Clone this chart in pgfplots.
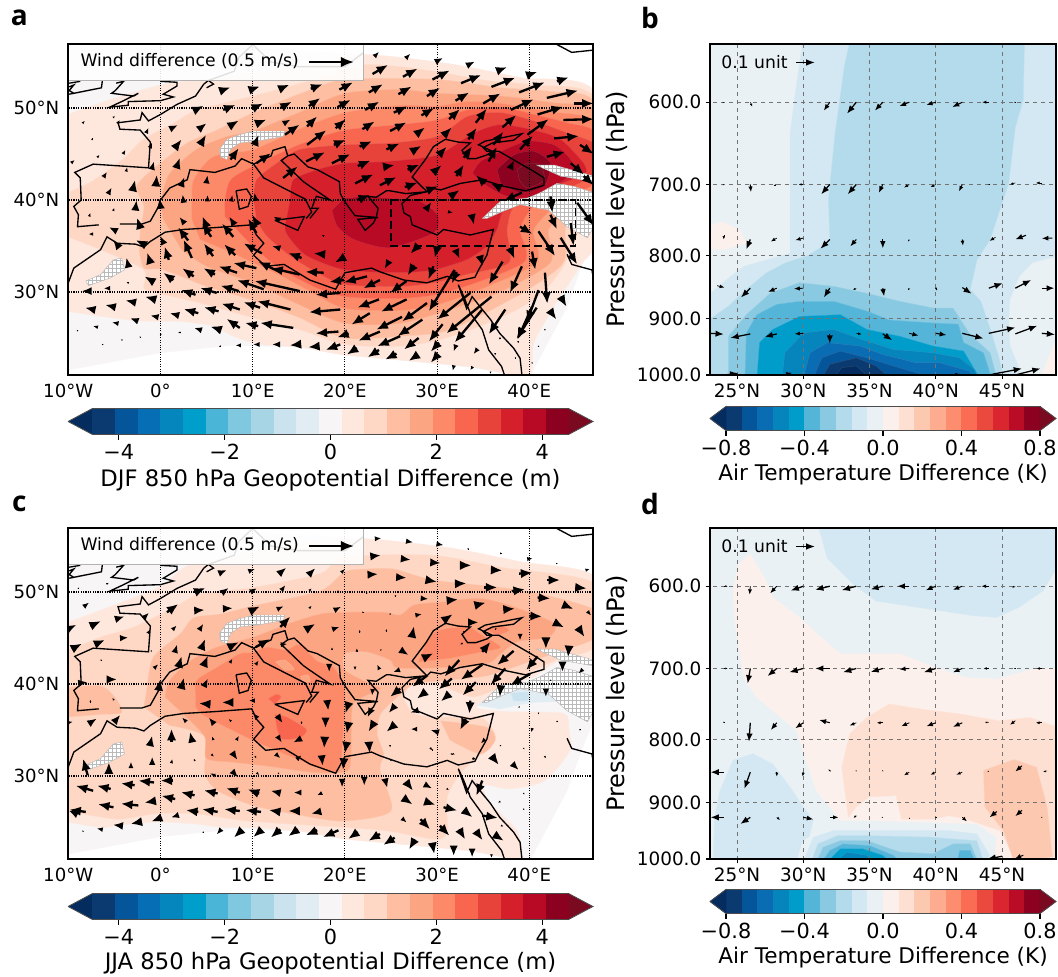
\documentclass[border=0pt]{standalone}
\usepackage{fontspec}
\setmainfont{DejaVu Sans}
\newfontfamily\lettfont{Open Sans}
\usepackage{pgfplots}
\usepackage{pgfplotstable}
\pgfplotsset{compat=1.18}
\usetikzlibrary{arrows.meta,patterns}
\definecolor{tipN}{HTML}{042C5E}\definecolor{tipP}{HTML}{7A0A20}
\definecolor{n10}{HTML}{0A3A70}\definecolor{n9}{HTML}{05559A}\definecolor{n8}{HTML}{066EB5}\definecolor{n7}{HTML}{0587BE}\definecolor{n6}{HTML}{009FCB}
\definecolor{n5}{HTML}{4AB5D7}\definecolor{n4}{HTML}{80C7E0}\definecolor{n3}{HTML}{A8D5E6}\definecolor{n2}{HTML}{CBE3EF}\definecolor{n1}{HTML}{E1EDF3}
\definecolor{z0}{HTML}{F7F5F6}
\definecolor{p1}{HTML}{FEE8DE}\definecolor{p2}{HTML}{FED8C5}\definecolor{p3}{HTML}{FDBEA1}\definecolor{p4}{HTML}{FCA582}\definecolor{p5}{HTML}{FC8A68}
\definecolor{p6}{HTML}{F86650}\definecolor{p7}{HTML}{E7433A}\definecolor{p8}{HTML}{D5202C}\definecolor{p9}{HTML}{B80A25}\definecolor{p10}{HTML}{8C011F}
\definecolor{q10}{HTML}{0A3A70}\definecolor{q9}{HTML}{05559A}\definecolor{q8}{HTML}{0A6CB3}\definecolor{q7}{HTML}{0585BB}\definecolor{q6}{HTML}{009CCA}
\definecolor{q5}{HTML}{55B5D8}\definecolor{q4}{HTML}{8AC9E2}\definecolor{q3}{HTML}{B4DBEB}\definecolor{q2}{HTML}{D3E8F2}\definecolor{q1}{HTML}{E9F1F4}
\definecolor{r1}{HTML}{FBF0EC}\definecolor{r2}{HTML}{FEE0D2}\definecolor{r3}{HTML}{FDC8B0}\definecolor{r4}{HTML}{FDAC8F}\definecolor{r5}{HTML}{FC8E6F}
\definecolor{r6}{HTML}{FA6D54}\definecolor{r7}{HTML}{EA4A3E}\definecolor{r8}{HTML}{D9262F}\definecolor{r9}{HTML}{BB0C27}\definecolor{r10}{HTML}{8C0120}

\pgfplotstableread{
lon lat
-9.9 52.7
-8.7 52.9
nan nan
-9.9 52.3
-9.4 52.5
-9.9 51.9
-9.4 51.6
nan nan
-9.9 51.5
-6.4 52.2
-6.3 53
nan nan
-4.8 52.7
-4 52.9
-4.9 51.9
-5.3 51.6
-2.9 51.3
-2.4 51.6
-4 50.8
-5.5 50.1
-3.5 50.3
-3.5 50.7
0 50.8
1.4 51.2
.3 51.5
1.8 52.4
1.8 52.8
0 52.9
nan nan
-6.7 37.3
-9 37.1
-8.9 38.4
-9.4 39.3
-8.6 40
-8.7 42.4
-9.3 43
-7.3 43.9
-1.3 43.5
-1.1 46.3
-2.2 47.6
-4.4 47.7
-4.6 48.4
-2.2 48.7
-2 49.5
-1.3 48.6
0 49.3
1.8 50.4
3.8 51.3
4.7 52.6
5.2 53
5.75 52.6
5 52.2
nan nan
5.2 53
8 54
8.5 55.5
10 56.9
12 55
15 54.5
20 54.5
22 56
nan nan
-4.4 37.4
-2 37.4
-1.1 37.7
-.2 39.3
0 40
1 41.3
2.9 42.2
3.2 43.3
5.9 43
8.1 43.7
8.8 44.5
10.1 43.9
11.2 42.4
15.7 40.1
16.4 38.7
15.8 38
nan nan
10.1 43.9
12 44.8
12.2 45.4
13.5 45.8
13.8 44.8
14.5 45
16 43.6
17 43.3
19.4 42
19.5 40.7
20 39.8
21.1 38.3
23.6 38.1
21.4 37.9
22.2 36.7
23.1 37.5
23.4 38.1
23.6 39.1
22.5 40.4
23.4 40.3
24.5 41
24.9 41
26.6 40.7
28.9 40.9
27.3 42.5
28.8 44.5
29.6 45.8
30.9 46.6
32.3 46.3
33.6 46.2
32.7 45.4
33.3 44.5
34.2 44.5
35.4 44.9
36 45.3
34.5 46
35.2 46.4
39.2 47.2
38.3 46.5
36 46.2
35 45.7
35.4 45.3
36.7 45.3
40.5 43.1
41.6 42.4
41.6 41.6
39.6 41
37.2 41.5
34.9 42.2
32.5 41.8
30.4 41.1
29.3 41.3
28.9 40.9
27.1 40.5
26.2 39.6
26.4 38.6
27.1 38.2
27.3 37.3
30 36.2
30.7 36.8
33.6 36.2
36.1 36.8
35.4 34
34.5 32.4
34.1 31.6
32.3 31.2
31.1 31.7
28.9 31
26.4 31.3
23.8 32.2
22.9 32.6
20 32.1
19 30.3
16.2 31.3
13.4 33
11.4 32.8
10.1 34
11.2 35.3
10.4 36.2
9.9 37.3
5.9 37
2.5 36.8
.5 36.5
-1.1 35.5
-1.8 34.9
-2.7 35.2
-4.7 35.3
-5.8 36
-6.5 34.6
-9.4 32.6
-10 31
nan nan
13.8 44.8
13.1 44.3
15.5 42
16.2 41.5
18.4 40
16.9 40.4
16.4 39.1
17.1 39.1
16.2 38
nan nan
12.4 37.8
15.6 38.2
14.9 36.7
12.4 37.8
nan nan
8.2 41
9.35 41.2
9.85 40.4
9.5 39.3
8.55 39
8.2 41
nan nan
32.3 30.8
32.9 29.5
33.6 27.7
34.9 25.9
35.6 23.7
37 21.9
37.3 21
nan nan
32.3 30.8
33.2 28.2
33.8 29.5
34.9 28.1
35.8 27
36.8 25.5
38.3 23.9
39 22.8
39.2 21
nan nan
43 56.9
44.6 56.05
47 56.3
nan nan
44.1 34.1
44.6 33
46.8 32.4
47 31.1
}\coast

\pgfplotstableread{
lon lat u v
23.3 55.7 .4 .4
26.7 55.5 .4 .4
30 55.1 .65 .35
33.4 54.7 .7 .35
36.7 54.1 .9 .35
39.9 53.6 1 .35
43 52.9 1.3 .45
23 53.7 1.7 1
26.3 53.4 1.6 .9
29.5 53.1 1.9 1
32.6 52.7 2.2 .9
35.9 52.3 2.6 1
38.9 51.7 2.8 1.1
41.9 51.1 3.4 .8
44.8 50.5 2.2 0
16.3 52.1 1.3 .5
19.4 52 1.5 .8
22.6 51.7 1.55 .9
25.8 51.5 1.45 .85
28.9 51.3 1.45 .9
32 50.8 1.5 .9
35 50.5 1.9 1.1
38 49.8 2.5 1.15
40.9 49.3 2.8 .85
43.7 48.7 3.3 .1
16.1 50.2 1.25 .9
19.2 50.1 1.45 .8
22.2 49.8 1.55 .9
25.3 49.5 1.5 .7
28.3 49.2 1.4 .8
31.3 48.8 1.2 1.1
34.2 48.4 1.2 1.55
37.1 47.9 1.5 1.35
39.8 47.1 2.3 1.7
42.7 46.7 2.7 .25
15.9 48 1.1 1.1
19 47.8 1.1 1
21.9 47.7 1.35 .85
24.9 47.5 1.8 .95
27.8 47.2 .9 .7
30.7 47 .9 .9
33.4 46.6 .9 1.25
36.1 46 1.1 1.45
39 45.5 1.4 1.5
41.9 44.7 2 .55
45.5 46 1.5 -1
15.9 46 2.1 1.6
18.8 46 1.3 .55
21.6 45.8 1.35 .6
24.5 45.5 1.45 .65
27.3 45.3 1 .6
30.2 44.9 .85 .9
32.9 44.6 .9 1.25
35.6 44.2 .9 1.6
38 43.6 .35 .75
44.5 44 1.45 -1.25
15.8 44.2 2.05 1
18.6 44 2 1
21.4 43.7 1.4 .6
24.2 43.6 1.2 .2
26.8 43.3 1.3 .55
29.6 43 .9 .8
32.1 42.6 .8 1.25
35.2 41.8 -1 .9
36.9 41.3 -1.1 .55
45.9 42.6 1.1 -1
21.1 41.8 2 1
23.8 41.6 1.8 .9
26.5 41.4 1.4 .5
29.1 41.1 1 .4
31.6 40.5 .85 .6
21.3 40 1.45 .55
28.9 39.1 .5 .7
31.3 38.7 .4 -.1
33.8 38.2 .2 -.9
39 37.1 1.35 -.8
42.3 38.4 .7 -1.6
41 36.6 1.8 -2.7
43.4 35.9 1.8 -2.9
45.2 39.7 1.8 -2.5
44.5 37.5 .3 -2.5
39.2 40.8 -2 -.9
42.3 40.4 .2 -1.8
27.9 35 -.8 -.85
30 34.8 -.25 -1.1
32.1 34.4 .35 -.8
34.7 33.7 .25 -.9
37.9 34.8 .5 -1.2
40.3 34.4 .35 -2
19.8 33.7 -.9 -.5
24.7 33.2 -.4 -.7
27.5 32.9 -.7 -1.1
29.6 32.8 -.55 -1.45
32.1 32.2 -.5 -1.3
37.1 33.3 -1.5 -2.5
39.2 32.8 -1.3 -2.9
41.7 32.1 .25 -3.4
43.4 29.5 .65 -1.1
42.3 27.9 .65 -.9
41 30.2 -1.3 -3.5
40.3 28.4 -1.6 -3.6
6.6 51.9 1 .35
9.8 52 1 .35
13 52.1 1 .45
3.8 49.8 .9 .45
6.8 49.8 1.35 .55
9.9 49.9 1.25 .6
13 50 1.25 .7
1.2 47.8 .7 .35
4.3 47.8 .7 .55
7.6 48.1 .9 .55
10.4 48.3 1.1 .45
13.5 48.4 .6 .35
13.5 47.1 1.6 1.1
1.6 45.7 .7 .9
4.3 46 .65 1.1
10.3 46.2 .35 .9
-8.4 48.4 .2 .2
-5.1 49 .2 .1
-4.6 48.4 .2 .3
-7.4 46.6 .1 .2
-6.8 44.7 .2 .2
-4 45.1 .2 .35
-1.5 47.4 .2 .45
-1.1 45.8 .2 .45
-9.6 44.1 .3 .25
-6.1 42.6 .3 .45
-3.7 43.2 .1 .35
-.9 43.5 .2 .7
1.8 43.7 .3 .9
7.6 44.4 .9 1.25
10.4 44 1.6 1.1
13.3 42.4 1.6 1.25
-5.6 40.8 .3 .55
-3 41.1 .25 1.1
-.5 41.5 .1 1.25
2.3 41.7 .3 .8
5 42 .1 .7
-7.7 38.3 .1 .3
-5.1 38.9 .1 .25
-2.7 39.1 .1 .9
0 39.3 -.1 .9
2.5 39.9 -.1 .7
5.1 40 0 .55
7.7 40 .1 .55
10.3 40.1 -.1 .7
-4.9 36.7 -.7 .35
-2.2 37 -.35 1.1
2.5 37.6 -.45 .55
5 37.1 -.45 1.15
7.9 37.5 -.45 .7
10.4 37.5 -.45 .9
12.8 37.9 -.55 .3
-7.4 36.3 -.4 0
-4.6 35 -.55 .7
-1.8 35.2 -.9 .45
.3 35.4 -.35 .7
3 35.6 -1.1 1.45
5.5 36 -1 1.5
7.9 36 -1.25 1.45
10.4 36.4 -.9 1.6
12.8 34.8 -.7 .2
17.7 36.1 -.2 .1
.9 33.5 -.45 1.45
3.4 33.7 -.9 2
5.7 33.9 -1 1.4
8.1 34 -1.2 1.2
11 34.2 -2 1.1
15.3 33.7 -1.45 .55
17.7 34.1 -1.1 .1
-3.5 32.9 -.2 .85
-1.1 33.2 -.35 1.1
-.9 31.2 -.85 .5
1.4 31.3 -1.1 .8
3.6 31.7 -1.25 .9
5.9 31.9 -1.25 .7
8.3 32.1 -2 .7
10.4 32.6 -2.5 .55
12.9 32.2 -2.3 1.1
15.1 31.9 -3.1 .7
17.7 32.1 -2 .1
-7.7 30.1 -.85 0
-5.6 30.4 -.55 0
-3.5 31 -.2 .1
3.8 29.7 -1.6 .55
6.1 29.9 -1.8 .55
8.5 30.1 -2 .6
11.2 30.3 -2.9 1
15.1 30.1 -4.9 1.1
19.5 29.9 -2.7 -.2
-7.3 28.1 -.9 .2
-5.1 28.4 -.9 .2
-2.9 28.9 -.9 .2
-.6 29.2 -1.1 .3
1.8 27.5 -.8 .2
4.1 27.7 -1.6 .45
6.3 27.9 -1.6 .45
8.6 28.1 -2 .65
10.8 28.3 -1.8 .6
14.1 28.1 -3.6 .9
19.5 28.1 -3.4 -.3
-4.7 26.6 -.55 .1
-2.6 26.9 -.7 .25
-.4 27.3 -.7 .15
2.1 25.6 -.2 0
4.3 25.9 -.65 .2
6.5 25.9 -1.1 .35
8.6 26.1 -1.45 1
10.6 26.3 -1.45 .35
14.4 26.1 -3.6 .55
19.3 25.7 -2.5 -.2
-9 25.8 -.1 .1
-6.9 26.2 -.4 .1
-6.2 24.3 .05 0
-4.2 24.8 -.1 .05
-2.2 25.1 -.1 .05
0 25.4 -.1 0
6.5 24.1 -.2 0
8.6 24.2 -.45 0
10.6 24.3 -.55 0
12.8 24.3 -.7 0
15 24.3 -1 -.1
17.1 24.1 -1.1 -.1
19.5 24.3 -1.6 -.6
19.9 31.3 -1.6 -.2
22.4 31.7 -2.5 -.65
23.8 31.3 -1.8 -.9
26.7 31.2 -1.8 -1.3
23.7 29.2 -2.35 -.9
26.7 29.2 -2.8 -1.35
22.7 27.7 -2 -1.25
26.2 27.3 -2.8 -1.4
28.9 28.8 -2.7 -2
31.9 32.4 -2.8 -4.5
20.4 25.5 -1.25 -.45
23.8 25.7 -2.35 -1
26 25.2 -2.5 -1.1
28.4 27 -2.7 -1.8
28 25 -1.6 -1.25
30.6 26.5 -1.5 -1.9
30.2 24.5 -.9 -1
33.6 29.9 -3.6 -2.9
35.9 29.5 -4.9 -4
34.9 28.1 -3 -3.6
37.4 28.1 -1.8 -2.7
40.8 28.3 -2.2 -3.4
21.3 23.9 -1.1 -.7
23.7 23.7 -1.25 -.8
25.6 23.3 -1.25 -.65
27.8 23.1 -.9 -.6
30 23.1 -.7 -.8
32 24.1 -.2 -.55
34.3 23.7 -.35 -.45
36.3 23.3 0 -.2
31.8 21.9 -.1 -.45
33.8 21.8 -.2 -.3
35.8 21.3 0 -.2
36.8 25 0 -.2
38.8 24.6 0 -.2
38.5 22.8 0 -.1
40.3 22.3 .1 -.1
41.7 25.9 -.1 .1
41 24.1 -.1 -.1
}\arrA

\pgfplotstableread{
lon lat u v
6.5 52.1 .7 .3
9.7 52.3 .55 .2
13 52.1 .65 .55
-8.9 50.4 .1 .1
-5.8 50.9 .2 .1
3.8 50 1.1 .45
6.8 50 .6 .45
9.9 50.1 .55 .3
13.2 50.3 .35 .45
-8.2 48.5 .45 .35
.7 47.8 1.25 .9
3.9 48 .9 .05
7 48.2 .85 .05
9.9 48 .9 .45
12.8 48.2 .55 .25
-10 46 .9 .45
-7.6 46.3 1.15 .55
-4.7 47.1 .8 .25
-1.7 47.3 .45 .45
1.4 46 .35 .35
4.3 46 .35 .55
13 46.2 1.1 1.15
-9.6 43.8 1.1 .6
-6.9 44.4 .9 .4
-4.2 45 .7 .05
-1.3 45.6 .2 .35
1.6 43.6 .2 .7
4.5 44 .35 .9
7.4 44 1.1 .55
10.3 44 1.6 .9
13.2 44.3 .55 .05
-6.4 42.6 .1 0
-1 43.6 .1 -.1
-.6 41.8 .35 .35
1.95 41.8 .35 1.25
4.7 42 .45 1.1
7.6 42.4 .2 .35
10.4 42.2 .25 .35
-8.7 40.1 .8 .1
-5.6 40.5 .9 0
-.2 39.3 .2 1.25
2.3 39.7 .25 1
4.8 39.9 .35 .7
7.6 40.1 .2 -.1
-7.6 38.1 0 .2
-5.1 38.3 -.1 .2
5.4 37.8 -1.25 .1
7.9 38 -1.25 0
10.1 38.2 -.5 0
-10 35.8 .5 .1
-7.6 35.8 .7 .45
-4.9 36 .55 .65
2.7 36 -.35 .35
5.7 35.8 -.45 .55
7.6 36 -.2 .2
10.4 36.4 -.35 .45
12.8 36.4 .45 -.65
15.3 35.8 0 .2
1.2 33.7 0 1.45
3.4 33.9 -.2 .9
5.7 34 -.1 .3
8.3 34 .2 .35
12.8 34.2 .35 -.55
15.1 34 -.7 -.35
23.4 55.8 .55 .05
26.8 55.5 .6 -.1
30.1 55.2 .6 -.1
33.4 54.7 .1 0
36.9 54.2 .2 -.05
39.9 53.6 .45 .05
43 53.1 .1 0
46.2 52.4 .35 .1
23 53.9 .9 .1
26.3 53.6 .85 -.1
29.5 53.2 .9 -.05
32.6 52.9 1.15 0
35.9 52.4 1.2 -.05
38.9 52 1.45 .1
41.9 51.3 1.45 0
45 50.5 1.25 -.1
16.2 52 .6 .6
19.7 52.2 .3 .3
22.7 51.9 .9 .05
25.8 51.6 .9 -.05
28.9 51.3 1.1 -.2
32 50.9 1.2 .05
35.1 50.5 1.45 0
38.1 50.1 1.45 .2
40.9 49.4 1.4 -.1
43.7 48.6 1.1 -.45
46.4 47.8 .3 -.35
16.2 50.2 .2 .2
19.3 50.1 .1 0
22.4 49.9 .1 0
25.5 49.6 .1 0
28.4 49.3 .65 -.05
31.3 49.1 1 .1
34.3 48.6 1 .25
37.2 48.1 1.25 .1
40 47.4 1.4 -.05
42.7 46.7 1.1 -.55
45.4 46 .6 -.9
16.2 48.3 .2 .2
19 48.1 .6 .3
22 47.8 .1 0
24.9 47.6 .1 .1
27.8 47.5 .55 .1
30.7 46.9 1 .7
33.6 46.7 .9 0
36.4 46 .1 0
39 45.3 0 -.55
41.8 44.8 0 -1
44.3 44 -.1 -1.1
15.9 46 .9 .55
18.8 46 .6 .2
21.6 45.7 0 .2
24.5 45.8 0 .2
27.3 45.3 .2 1
32.9 45.7 -.1 -.1
18.6 43.8 0 .2
21.3 43.6 0 .3
23.9 43.7 .1 .1
26.2 43.6 .7 -.45
28.7 42.9 .9 .45
32.7 44.4 -.2 -.1
34.9 43.5 .9 1.1
38.3 43.6 -1.8 -1.55
40.9 43 -1.25 -1.5
43.6 42.2 0 -.9
32.4 42.6 -1.6 -1.8
34.9 42.1 -2.35 -1.65
37.4 41.7 -1.6 -1.8
40.1 41.1 -2.2 -1.25
28.9 40.9 -1.6 -1.2
31.6 40.6 -1.45 -1.2
34.2 40.2 -1.45 -1.45
26 39.5 -1.1 -.9
28.7 39.1 -.9 -.7
31.2 38.8 -.8 -.7
33.6 38.2 -.1 -1.45
36.9 39.7 -.1 -1.1
38.9 37.5 -.1 -.1
41.8 39.3 0 -.7
42.3 40.4 -.1 -.1
45 40 -.1 -.1
45.7 41.5 -.35 -.35
25.3 37.5 -.55 -.65
27.8 37.1 -.7 -.2
23 39.3 -.05 -.55
22.8 37.1 -.35 -.7
23.1 35.7 -.55 -.9
25.3 35.5 -.8 -.7
27.7 35.1 -.55 0
30 34.8 -.7 .2
33.1 36.2 -.6 -1.2
35.1 33.9 -.35 -.35
20.4 37.9 -.35 -1.1
20.4 35.7 -.2 -1.1
18.1 38 .1 -.9
17.9 36.1 0 -.9
17.8 34.1 -.05 -1.1
20.2 33.7 -.2 -1.25
22.6 33.7 .1 -1.25
19.9 31.9 -.1 -1.25
17.5 32 .1 -.9
18.3 42 0 -.7
21.1 41.8 0 -.3
23.7 41.7 -.2 .4
25.8 41.5 -.55 -.2
36 32.1 .7 -.9
38.3 31.2 .55 -.55
41 36.8 0 -.1
43 35.9 0 -.1
45.5 35 0 -.1
40.3 35.1 -.1 -.35
36.9 33.3 .1 0
39.4 33 .1 -.1
41.7 32.1 .1 -.2
31.6 32.4 -.2 0
34 31.9 -.2 -.2
29.3 33 .2 -.2
24.9 33.3 0 -.2
-1.1 33.5 .2 .9
-7.9 30.1 -.5 1.8
-5.6 30.4 0 1.1
-3.2 31 0 .55
-.9 31.4 0 .7
1.2 31.5 .1 .35
3.7 31.7 -.1 .2
5.6 32.3 .2 -.2
7.9 32.4 .45 -.65
10.3 32.1 .1 -.2
12.6 32.3 .4 -.35
14.9 31.9 .4 .35
5.8 30.1 -.4 .2
7.9 30.4 .5 -.55
10.5 30.3 .2 -.2
12.8 30.3 .1 -.1
15.1 30.1 -.1 -.1
25 31.7 .1 -.1
29.5 32.8 0 -.1
31.8 32.4 .1 -.1
33.9 31.9 .2 -.1
19.7 29.5 0 -.75
22.1 29.7 0 -.75
24.4 29.5 .2 -.8
26.7 29.3 .7 -.9
28.8 29 .65 -.35
31.1 28.6 .2 -.1
33.5 28.1 .1 -.1
34.9 29.5 -.65 -1.65
36.8 27.2 -.2 -.1
39.4 28.1 .1 -.1
26.5 27.5 .85 -.6
28.8 27.2 1.05 -.35
30.7 26.6 1.5 -.35
33 26.2 .85 -.7
34.9 25.7 1.7 -.25
37 24.6 .2 -.1
39.4 26.4 -.1 -.1
26.3 25.3 .4 -.35
28.2 25.3 1.05 -1.1
30.3 24.6 1.05 -1.1
32.4 24.2 .65 -1.1
34.3 23.9 .65 -.9
36.4 23.5 .85 -.55
-7.3 28.4 -1.9 .55
-5.4 28.6 -1.5 .35
-2.8 29 -1.5 .2
-.7 29.3 -1.7 .2
1.4 29.5 -1.4 0
3.7 27.9 -1.5 .35
6.2 28.1 -1.5 .35
8.6 28.2 -1.5 .5
10.7 28.1 -1.25 .45
12.8 28.2 -.85 .2
15.1 28.2 -.65 0
17.4 28.1 -.4 -.2
-5.1 26.6 -1.7 .35
-2.4 26.8 -1.9 .2
-.5 27.3 -1.25 -.2
1.6 27.5 -1.5 .35
-8.1 26.1 -1.8 .25
4.1 26.1 -1.35 .2
6.2 26.1 -1.7 .3
8.6 26.2 -1.7 .2
10.9 26.1 -1.7 .2
13 26.1 -1.25 .2
15.1 26.2 -1.25 0
17.2 26.1 -.85 -.2
-6.4 24.2 -.5 .1
-4.3 24.6 -.85 .1
-2.2 25 -1.05 -.2
-.1 25.4 -.9 -.35
1.8 25.7 -.65 -.2
-9.2 25.9 -.75 .35
6.5 24.1 -.4 -.45
8.8 24.1 -.85 -.8
10.9 24.1 -.85 -.75
13 24.2 -1.05 -.9
14.9 24.2 -1.05 -.75
17 24.1 -1.25 -.55
19.3 24.1 -1.7 -.75
21.4 23.9 -1.05 -.75
23.8 23.7 -1.25 -.75
25.4 23.3 -1.25 -.8
27.6 23.1 -.65 -1.1
29.5 22.6 .2 -1.1
31.8 22.2 0 -.9
33.8 21.9 0 -.75
35.9 21.4 0 -.3
4.6 23.9 -.1 0
-8.4 24 -.1 .1
}\arrC

\pgfplotstableread{
lat p u dp
24 600 -.1 1
26 600 .15 5
32 600 -.45 9.5
34 600 -.7 13
36 600 -.6 9.5
38 600 -.75 4.5
40 600 -.7 3
42 600 -.75 5.5
44 600 -.5 0
46 600 -.1 0
24 700 -.1 1
26 700 .05 10
28 700 -.25 2
30 700 -.35 0
32 700 -.65 13
34 700 -.65 13
36 700 -.3 11
38 700 -.4 4
40 700 -.4 3.5
42 700 -.25 9
44 700 -.05 0
46 698 -.4 2
48 698 -.45 0
24 770 0 6
26 776 -.3 14.5
28 774 -.45 5
30 774 -.6 3
32 776 -.7 13.5
34 776 -.45 10
36 776 0 13
38 776 -.1 3
40 776 -.05 3
42 776 .05 9
44.5 773 -.45 5
46.8 770 -.8 6
48.8 774 -.8 .5
23.5 846 .55 3
26 850 -.7 15
28 850 -.65 6
30 850 -.7 1
32 850 -.45 15
34 850 -.25 3
36 850 .1 13
38 850 -.1 3.5
40 849 .1 5
42 849 .7 10
44 850 1.05 -8
46 850 1.2 -13
48 850 .95 0
23 925 1 1.5
26 926 -1.5 7
28 926 -.9 5
30 925 -.65 1
32 926 0 17
34 925 .4 1.5
36 926 .7 11
38 925 .7 4
40 925 .8 3
42 925 1.6 9
44 925 2 -10
46 926 1.65 -14
48 925 1 2
24 1000 1.1 -3
28.5 1000 .65 -4
41.3 1000 .5 -2
44 1000 2.5 -12
46 1000 1.9 -12
}\arrB

\pgfplotstableread{
lat p u dp
24 600 .3 0
26 600 -.05 9.5
28 600 -.5 8
30 600 -.95 5
32 600 -1.1 4
34 600 -1.1 4.5
36 600 -.9 3.5
38 600 -.9 0
40 600 -.75 4.5
42 600 -.7 4
44 600 -.55 0
46 600 -.25 1.5
24 700 .3 0
26 700 -.2 20
28 700 -.7 10
30 700 -1.05 5
32 700 -1.1 0
34 700 -1 5
36 700 -.9 4.5
38 700 -.75 1
40 700 -.9 5
42 700 -.7 5
44 700 -.4 0
46 700 -.1 0
48 700 -.4 0
24 775 0 .5
26 775 -.1 28
28 775 -.45 10.5
30 775 -.6 8
32 775 -.8 -4
34 775 -.5 4
36 775 -.45 0
38 775 -.6 5
40 775 -.7 5
42 775 -.7 6
44 775 -.3 -1
46 772 -.4 6
48 775 -.45 0
24 850 -1 0
26 850 -.45 27
28 850 0 7
30 850 -.05 7
31.9 846 .2 3
34 848 .05 .3
36 848 .05 .3
38 850 -.4 5
40 850 -.4 4
42 850 -.45 4
44 848 -.1 2
46.5 840 -.5 9
48.4 848 -.3 1.5
24 925 -1 0
26 925 -.75 11.5
28 925 .25 4.5
30 925 .75 3.5
32 925 .65 0
34 922 -.2 4
36 925 -.1 .3
38 926 .05 2
40 926 0 1
42 925 .35 7
44.6 915 -.55 10
46.5 913 -.5 10
48 925 -.05 1
45 995 -1.1 5
46.6 993 -.65 7
}\arrD

\pgfplotstableread{
lon lat u v
16.1 55 4.9 0
}\keyArr
\pgfplotstableread{
lat p u dp
29.45 557 1.43 0
}\keyArrV

\newcommand\lv[2]{\addplot[smooth,tension=.45,fill=#1,draw=#1!85!white,line width=.3pt,forget plot] coordinates {#2} -- cycle;}
\newcommand\lp[2]{\addplot[fill=#1,draw=#1!85!white,line width=.3pt,forget plot] coordinates {#2} -- cycle;}
\newcommand\hatchp[1]{\addplot[fill=white,draw=gray!60,line width=.3pt,forget plot] coordinates {#1} -- cycle;
\addplot[pattern=grid,pattern color=gray!55,draw=none,forget plot] coordinates {#1} -- cycle;}
\newcommand\seg[3]{\addplot[fill=#1,draw=#1,line width=.1pt,forget plot] coordinates {(#2,0)(#3,0)(#3,1)(#2,1)} -- cycle;}

\pgfplotsset{
 mapaxis/.style={scale only axis,width=393.75pt,height=248.25pt,anchor=south west,axis on top,
  xmin=-10.03,xmax=46.91,ymin=20.98,ymax=56.96,
  axis line style={line width=1.4pt},
  xtick={-10,0,10,20,30,40},xticklabels={10°W,0°,10°E,20°E,30°E,40°E},
  ytick={30,40,50},yticklabels={30°N,40°N,50°N},
  major tick length=0pt,minor tick length=0pt,
  tick label style={font=\fontsize{13.6}{16}\selectfont},
  xticklabel shift=3pt,yticklabel shift=3pt},
 vertaxis/.style={scale only axis,width=259.5pt,height=248.25pt,anchor=south west,axis on top,
  xmin=22.96,xmax=49.07,ymin=538,ymax=1000,y dir=reverse,
  y coord trafo/.code={\pgfmathparse{ln(##1)}},
  y coord inv trafo/.code={\pgfmathparse{exp(##1)}},
  axis line style={line width=1.1pt},
  xtick={25,30,35,40,45},xticklabels={25°N,30°N,35°N,40°N,45°N},
  ytick={600,700,800,900,1000},yticklabels={600.0,700.0,800.0,900.0,1000.0},
  tick align=outside,xtick pos=bottom,ytick pos=left,major tick length=3pt,tick style={line width=.8pt,black},
  tick label style={font=\fontsize{13.8}{16}\selectfont},
  ylabel={Pressure level (hPa)},
  ylabel style={at={(axis description cs:-0.269,0.5)},anchor=center,rotate=0,font=\fontsize{18}{20}\selectfont}},
 vertover/.style={scale only axis,width=259.5pt,height=248.25pt,anchor=south west,
  xmin=22.96,xmax=49.07,ymin=6.2879,ymax=6.9078,y dir=reverse,hide axis},
 cbaxis/.style={scale only axis,anchor=south west,axis y line=none,axis x line*=bottom,
  ymin=-0.02,ymax=1.02,ytick=\empty,axis line style={draw=none},
  tick align=outside,major tick length=3.5pt,tick style={line width=.9pt,black},
  x tick label style={font=\fontsize{15.6}{18}\selectfont},clip=false},
 quivA/.style={black,forget plot,point meta={sqrt(\thisrow{u}*\thisrow{u}+\thisrow{v}*\thisrow{v})},point meta min=0,point meta max=.75,
  quiver={u=\thisrow{u},v=\thisrow{v},every arrow/.append style={line width={1.75pt*min(1,max(.15,\pgfplotspointmetatransformed/1000))},-{Latex[length=0pt 5,width=0pt 4]}}}},
 quivB/.style={black,forget plot,point meta={sqrt(\thisrow{u}*\thisrow{u}+\thisrow{dp}*\thisrow{dp}/225)},point meta min=0,point meta max=.4,
  quiver={u=\thisrow{u},v={ln(1+\thisrow{dp}/\thisrow{p})},every arrow/.append style={line width={.95pt*min(1,max(.15,\pgfplotspointmetatransformed/1000))},-{Latex[length=0pt 6.5,width=0pt 5]}}}}
}

\newcommand\domain{\lp{z0}{(-10.1,21.5)(0,23.4)(7.65,24.2)(15.1,24)(20,23.15)(26,22.6)(33.6,21.85)(37.1,21.2)(38.1,20.9)(40.1,20.9)(44.1,28.4)(45.8,33.2)(47,36)(47,51.6)(39,53.3)(31.4,54.8)(22,55.8)(9.7,56.5)(-10.1,57.1)}}
\newcommand\mapdetails{%
 \hatchp{(6.4,45.5)(7.2,46.6)(8.6,47.1)(10.1,47.5)(13.5,47.5)(13.3,46.9)(10.4,46.4)(8.6,46.2)(7.6,45.5)(7.2,44.4)(6.5,44.7)}
 \hatchp{(-8.1,31.2)(-6.5,31.9)(-5.1,33.5)(-4.2,33.7)(-3.9,32.4)(-5.5,31.5)(-7.8,30.7)}
 \hatchp{(40.8,43.8)(42.7,43.8)(47,42.6)(46.8,42)(43.4,42.6)(41.4,43.5)}
 \hatchp{(34.9,38)(36.9,39.9)(39.8,40.2)(41.2,40.8)(43,41.8)(44.8,41.5)(47,40.8)(47,37.1)(46.3,35.9)(44.1,37.1)(42.1,38.9)(39,39.5)(37.2,38.8)(35.4,38)}
 \addplot[black,line width=1pt,unbounded coords=jump,forget plot] table[x=lon,y=lat] {\coast};
 \foreach \g in {0,10,20,30,40}{\edef\tmp{\noexpand\addplot[black,line width=.8pt,densely dotted,forget plot] coordinates {(\g,20)(\g,58)};}\tmp}
 \foreach \g in {30,40,50}{\edef\tmp{\noexpand\addplot[black,line width=.8pt,densely dotted,forget plot] coordinates {(-11,\g)(48,\g)};}\tmp}
}
\newcommand\mapkey{%
 \addplot[fill=white,fill opacity=.88,draw=gray!60,line width=.5pt,forget plot] coordinates {(-11,53)(22,53)(22,58)(-11,58)} -- cycle;
 \addplot[black,forget plot,point meta=1,quiver={u=\thisrow{u},v=\thisrow{v},every arrow/.append style={line width=2pt,-{Latex[length=0pt 5,width=0pt 4]}}}] table {\keyArr};
 \node[anchor=west,font=\fontsize{12.9}{15}\selectfont,inner sep=0pt] at (axis cs:-8.7,55.05) {Wind difference (0.5 m/s)};
}
\newcommand\vertgrid{%
 \foreach \g in {25,30,35,40,45}{\edef\tmp{\noexpand\addplot[gray!90!black,line width=.7pt,dashed,forget plot] coordinates {(\g,530)(\g,1005)};}\tmp}
 \foreach \g in {600,700,800,900}{\edef\tmp{\noexpand\addplot[gray!90!black,line width=.7pt,dashed,forget plot] coordinates {(22,\g)(50,\g)};}\tmp}
}
\newcommand\vertkey{%
 \node[anchor=west,font=\fontsize{12.9}{15}\selectfont,inner sep=0pt] at (axis cs:23.8,557) {0.1 unit};
}
\newcommand\vertarrows[1]{%
 \addplot[quivB] table[x=lat,y expr={ln(\thisrow{p})}] {#1};
 \addplot[black,forget plot,point meta=1,quiver={u=\thisrow{u},v=\thisrow{dp},every arrow/.append style={line width=1.1pt,-{Latex[length=0pt 6,width=0pt 4.5]}}}] table[x=lat,y expr={ln(\thisrow{p})}] {\keyArrV};
}
\newcommand\cbarA{%
 \seg{tipN}{-4.96}{-4.5}
 \seg{n10}{-4.5}{-4.071}\seg{n9}{-4.071}{-3.643}\seg{n8}{-3.643}{-3.214}\seg{n7}{-3.214}{-2.786}\seg{n6}{-2.786}{-2.357}
 \seg{n5}{-2.357}{-1.929}\seg{n4}{-1.929}{-1.5}\seg{n3}{-1.5}{-1.071}\seg{n2}{-1.071}{-.643}\seg{n1}{-.643}{-.214}
 \seg{z0}{-.214}{.214}
 \seg{p1}{.214}{.643}\seg{p2}{.643}{1.071}\seg{p3}{1.071}{1.5}\seg{p4}{1.5}{1.929}\seg{p5}{1.929}{2.357}
 \seg{p6}{2.357}{2.786}\seg{p7}{2.786}{3.214}\seg{p8}{3.214}{3.643}\seg{p9}{3.643}{4.071}\seg{p10}{4.071}{4.5}
 \seg{tipP}{4.5}{4.96}
}
\newcommand\cbarB{%
 \seg{q10}{-.8}{-.72}\seg{q9}{-.72}{-.64}\seg{q8}{-.64}{-.56}\seg{q7}{-.56}{-.48}\seg{q6}{-.48}{-.4}
 \seg{q5}{-.4}{-.32}\seg{q4}{-.32}{-.24}\seg{q3}{-.24}{-.16}\seg{q2}{-.16}{-.08}\seg{q1}{-.08}{0}
 \seg{r1}{0}{.08}\seg{r2}{.08}{.16}\seg{r3}{.16}{.24}\seg{r4}{.24}{.32}\seg{r5}{.32}{.4}
 \seg{r6}{.4}{.48}\seg{r7}{.48}{.56}\seg{r8}{.56}{.64}\seg{r9}{.64}{.72}\seg{r10}{.72}{.8}
}
\newcommand\cbtipsA{%
 \addplot[white,fill=white,draw=none,forget plot] coordinates {(-5,-.03)(-4.5,-.03)(-4.5,0)(-4.96,.5)(-5,.5)} -- cycle;
 \addplot[white,fill=white,draw=none,forget plot] coordinates {(-5,1.03)(-4.5,1.03)(-4.5,1)(-4.96,.5)(-5,.5)} -- cycle;
 \addplot[white,fill=white,draw=none,forget plot] coordinates {(5,-.03)(4.5,-.03)(4.5,0)(4.96,.5)(5,.5)} -- cycle;
 \addplot[white,fill=white,draw=none,forget plot] coordinates {(5,1.03)(4.5,1.03)(4.5,1)(4.96,.5)(5,.5)} -- cycle;
 \addplot[gray!60!black,line width=.6pt,forget plot] coordinates {(-4.96,.5)(-4.5,0)(4.5,0)(4.96,.5)(4.5,1)(-4.5,1)(-4.96,.5)};
}
\newcommand\cbtipsB{%
 \addplot[tipN,fill=tipN,forget plot] coordinates {(-.8,0)(-.8815,.5)(-.8,1)} -- cycle;
 \addplot[tipP,fill=tipP,forget plot] coordinates {(.8,0)(.8815,.5)(.8,1)} -- cycle;
 \addplot[gray!60!black,line width=.6pt,forget plot] coordinates {(-.8815,.5)(-.8,0)(.8,0)(.8815,.5)(.8,1)(-.8,1)(-.8815,.5)};
}

\begin{document}
\begin{tikzpicture}
\path[use as bounding box] (0,0) rectangle (793.5pt,732pt);

% ---------- panel a
\begin{axis}[mapaxis,at={(51pt,450.75pt)}]
\domain
\lv{p1}{(-10.1,49.3)(-5.5,50.9)(0,52.5)(4.3,53.1)(15,54.5)(22,55.8)(31.4,54.8)(39,53.3)(47.2,51.6)(47.2,36)(45.8,33.2)(43,29)(42.1,27.4)(40.5,24.5)(40.1,21)(38.1,21)(37.1,21.2)(33.6,21.85)(26,22.6)(20,23.15)(15.1,24)(10.8,24.3)(7.9,25.2)(5.7,26.3)(2.1,26.8)(-2.9,26.9)(-10.1,27.9)}
\lv{p2}{(-10.1,40.8)(-7.5,42)(-4,44.5)(-2,46.5)(1.5,48.4)(4,49.8)(10,51.3)(18.5,53.6)(22,54.7)(26,54.5)(30.3,53.9)(35.4,53)(40.4,52.5)(47.2,51)(47.2,37.8)(45.5,36.8)(43.7,32.8)(41.5,30)(38.7,28.1)(34.7,26.3)(30.3,24.8)(26,24.1)(20,24.3)(15.1,25.9)(10,27.2)(4.3,28.8)(0,29.8)(-1.8,30.4)(-1.8,32.4)(-6.5,34.6)(-10.1,36)}
\lv{p3}{(-2.2,36.8)(-1.8,39.3)(-2.6,41.5)(-.4,43.7)(2.9,46.2)(6.1,47.6)(10.1,49.5)(15,51.5)(20,53.1)(30,53.1)(36.9,52.2)(42.3,51.8)(47.2,50.4)(47.2,38.6)(44.9,38.9)(43.9,36.8)(43.7,33.2)(39.4,30)(31.4,25.9)(26,25.2)(20,25)(15.1,27.2)(10,29.1)(5,30.6)(2.5,31.6)(0,32.5)(-1.8,32.6)(-2.3,34.5)}
\lv{p4}{(.3,37.9)(.1,40)(1,42.9)(3.9,45.5)(7.2,46.9)(10.1,47.5)(15,49.5)(20,51.6)(26,52)(30,51.6)(36.9,51.3)(42.3,50.6)(47.2,49.5)(47.2,40.4)(44.5,38.95)(42.1,36.8)(42.3,33.2)(36.8,30)(31.4,28.1)(26,26.6)(20,26.6)(15.1,28.6)(10,31)(5,32.8)(2.3,34.6)}
\lv{p5}{(3.4,37.9)(3.4,40)(3.6,42.2)(5.7,44.7)(10.1,45.5)(15,47.7)(20,49.5)(26,50.3)(30,50.2)(33.3,50.7)(36.9,50.5)(42.3,49.6)(47.2,48.4)(47.2,40.8)(43.5,39.8)(40.5,36.8)(40.8,33.2)(34,30)(29.6,28.5)(26,28)(20,28.2)(16,30.2)(13,31.8)(10,33.2)(7.2,34.5)(4.3,35.7)}
\lv{p6}{(7,38.2)(7,40)(7.6,42.2)(10.1,43.7)(15,46)(20,47.6)(26,48.2)(30,48.7)(33.3,49.8)(36.9,50.1)(40.5,49.3)(44.1,48.4)(47.2,47.3)(47.2,42)(43.5,40.3)(40.5,39.3)(39,36.8)(39.4,33.2)(31.1,30)(26,29.3)(20,29.5)(16.6,30.6)(12.6,32.8)(10,35)(9,36)}
\lv{p7}{(10.1,40)(10.4,42.2)(12.6,44)(15.1,45.5)(20,46)(24.9,46.2)(30,46.9)(33.3,49.1)(36.9,49.5)(40.5,48.6)(44.1,47.3)(47.2,46)(47.2,43)(44,41.2)(38.7,39.7)(37.6,36.8)(37.8,33.2)(33.2,31.9)(29.6,31)(26,30.6)(20,30.8)(17,32.1)(14.1,33.9)(11.5,36.1)(10.4,37.9)}
\lv{p8}{(14.06,40)(14.4,42.2)(17,43.3)(20,44)(24.6,44.2)(30,44.9)(34,47.3)(36.9,48.2)(40.5,47.6)(43.4,46.6)(45.9,44)(46,42.8)(43,41.6)(37.6,39.3)(36.5,36.8)(35.4,35)(33.2,33.5)(29.6,32.4)(26,32.1)(20,32.4)(15.9,33.9)(14.1,35.7)(13.5,36.8)(13.7,38.2)}
\lv{p9}{(18.6,38.9)(19.2,37.1)(21,35.7)(24.9,34.8)(29.6,36.4)(30.2,37.9)(29.6,38.9)(27.8,40)(24.9,40.2)(22.4,40.4)(19.9,40.2)}
\lv{p9}{(33.8,42.9)(34.7,44.2)(36.9,45.3)(39.8,46.4)(42.7,46)(44.5,44.4)(44.8,42.9)(40.5,40.4)(37.6,40.4)(35.4,41.5)}
\lv{p10}{(36.5,43.3)(38.3,44.9)(40.5,45.3)(42.3,44)(41.6,41.5)(39,40.8)(36.9,41.8)}
\lv{tipP}{(38.7,43.3)(39.8,44)(41.2,43.8)(41.6,42.2)(39.8,41.3)(38.9,42.2)}
\mapdetails
\addplot[black,line width=1.2pt,dash pattern=on 6pt off 3pt,forget plot] coordinates {(25,40)(45,40)(45,35)(25,35)(25,40)};
\addplot[quivA] table {\arrA};
\mapkey
\end{axis}

% ---------- panel c
\begin{axis}[mapaxis,at={(51pt,87.75pt)}]
\domain
\lv{p1}{(-10.1,46.7)(-5.5,48.4)(0,50.6)(3.6,53.1)(15,55.2)(22,55.8)(31.4,54.8)(39,53.3)(47.2,51.6)(47.2,43.3)(43.4,42.6)(40.5,40.8)(37.6,39.7)(34.3,37.5)(37.6,37)(43.7,36.8)(44.3,35)(44.4,32.8)(41.7,29.5)(37.9,28.6)(35.1,29)(35.8,27)(38.7,24)(39.2,21)(38.1,21)(37.1,21.2)(33.6,21.85)(26,22.6)(20,23.15)(15.1,24)(9.6,24.4)(6.7,24.4)(3.7,24.8)(-.5,25)(-4.7,24.6)(-6.4,24.4)(-10.1,25)}
\lv{p2}{(-10.1,43.6)(-6.5,45.1)(-2.9,46.2)(1.4,48.3)(4.3,49.8)(10.1,50.5)(17.3,52)(20,53.8)(29.6,54)(36.9,52.7)(47.2,50.9)(47.2,44.2)(43.4,42.8)(40.5,41.5)(37.6,40)(34,38.6)(30.7,39.7)(27.5,40)(26.4,38.6)(27.5,36.8)(30.4,36.4)(34.7,36.4)(36.3,34.6)(35.8,33.2)(32.8,30.6)(31.1,27.7)(31.1,24)(29.9,23.1)(24.8,24)(20,24.4)(9.6,25.1)(3.7,25.9)(-.5,25.9)(-4.7,25.3)(-10.1,26.2)}
\lv{p3}{(-1.8,37.5)(-1.5,39.3)(-.8,42.9)(2.1,45.4)(3.6,47.2)(6.5,47.6)(10.1,48.5)(17.3,50.1)(20,52.2)(22.4,52.5)(25.3,52.5)(29.6,51.3)(36.9,50.5)(41.2,49.8)(47.2,48)(47.2,45.1)(44.1,43.8)(40.5,42.6)(35.4,40.9)(30.7,40.4)(27.5,40)(25.7,38.6)(23.9,36.8)(23.5,34.6)(24.2,32.4)(23.8,30.6)(25,26.2)(19.7,25.1)(14.3,25.9)(10,26.8)(6.2,28.4)(4.8,30.3)(4.8,34.3)(1,35.5)}
\lv{p3}{(-10.1,39.6)(-6.5,39.8)(-4.9,38.5)(-4.2,36.9)(-6.5,36.7)(-10.1,36.4)}
\lv{p3}{(30.4,36)(35.4,35.3)(36.3,33.9)(34.7,32.4)(31.4,33.9)}
\lv{p4}{(.5,38.6)(1,40.4)(3.2,42.5)(6.1,44)(10.1,45.1)(13.7,46.5)(17.3,47.6)(20,47.8)(24.2,47.8)(26,47.5)(27.5,48.6)(30.4,48.9)(34.7,49.3)(38.3,48.4)(42.7,46.6)(42.1,45.1)(38.7,44.6)(36.9,43.3)(35.4,42.2)(30.7,41.8)(27.8,41.7)(25.5,41.8)(24.9,42.6)(22.4,43.5)(20,43.3)(20,41.5)(22.8,40)(23.9,39.5)(22,38.6)(20.8,37.5)(20.6,31.3)(19.7,30.4)(16.4,30.4)(12.2,31)(7.9,31.5)(5,31.9)(4.8,34.3)(2.5,36.7)}
\lv{p5}{(3.8,38.9)(3.9,40.4)(6.1,41.8)(8.6,43.3)(9.9,43.4)(11.5,44)(13.7,43.7)(15.1,44.3)(17,42.5)(18.8,41.8)(19.9,39.6)(19.9,36)(19.7,33.1)(19.5,31.1)(18.9,30.4)(15.9,31.4)(10,33.9)(5,36.4)(3.8,37.5)}
\lv{p4}{(12.5,42.4)(13.5,42.6)(14.5,41.6)(13.5,41.5)}
\lv{p4}{(15.2,40.8)(16,41)(16.2,40.3)(15.5,40.2)}
\lv{p5}{(28,42.4)(28.9,44.7)(30,45.8)(33.3,46.2)(34.9,45.3)(36.9,44)(34.9,43.5)(31.4,42.8)}
\lv{p5}{(35.1,46)(36.9,46.4)(37.8,45.8)(36.5,45.3)}
\lv{p6}{(11.7,38.4)(12.6,38.9)(13.1,38.6)(12.4,37.8)}
\lv{p6}{(12.4,36.7)(13.7,36.4)(15.8,35.1)(15.2,34.2)(13.2,34)(12.6,35.3)}
\lv{n1}{(34.3,37.7)(36.9,39)(40.5,39.7)(46.3,39.3)(45.9,38.2)(40.5,38)(36.9,37.3)}
\lv{n2}{(38,39)(39.8,39.1)(39.8,38.2)(38.3,38.2)}
\mapdetails
\addplot[quivA] table {\arrC};
\mapkey
\end{axis}

% ---------- panel b
\begin{axis}[vertaxis,at={(532.5pt,450.75pt)}]
\lp{q1}{(22.9,530)(49.2,530)(49.2,1005)(22.9,1005)}
\lp{r1}{(22.9,756)(23.9,751)(25.2,762)(25.7,781)(24.2,790)(22.9,790)}
\lp{r1}{(47.9,1005)(49.2,930)(49.2,1005)}
\lp{q2}{(30,530)(49.2,530)(49.2,800)(47.3,810)(46.3,831)(45.6,868)(45.5,901)(45.6,947)(46.6,1005)(22.9,1005)(22.9,860)(24.35,834)(25.5,816)(29,796)(29,636)(29.5,579)}
\lp{q3}{(33.6,530)(46.7,530)(46.6,597)(46,629)(45.5,698)(44.1,776)(43.1,806)(42.6,852)(43.4,871)(44.2,924)(44.8,971)(45.1,1005)(22.9,1005)(22.9,901)(24.35,879)(25.7,852)(27.2,826)(28.7,810)(30.3,800)(31.3,788)(32,776)(31.9,720)(32.4,636)(33.1,561)}
\lp{q4}{(24.35,1005)(24.35,930)(25.7,893)(27.5,858)(29.7,841)(32.3,847)(34.8,858)(37.3,871)(39.8,882)(41.3,882)(42.6,927)(44.1,959)(44.6,1005)}
\lp{q5}{(25.6,1005)(25.7,924)(26.5,893)(28,876)(29.7,871)(32.3,871)(34.8,887)(36.5,902)(39.8,907)(41.7,909)(42.1,941)(43.6,959)(44.2,1005)}
\lp{q6}{(26.5,1005)(26.7,941)(27.7,918)(29.7,896)(32.8,893)(34.8,918)(37.3,930)(39.8,947)(42.1,956)(43.3,1005)}
\lp{q7}{(28.4,1005)(28.6,959)(30,924)(32.3,918)(34.5,936)(36.8,953)(39.8,959)(41.8,968)(42.9,989)(43.2,1005)}
\lp{q8}{(30,1005)(30.5,959)(31.8,941)(34.3,947)(36,962)(38.5,977)(40.3,977)(42.6,993)(42.7,1005)}
\lp{q9}{(30.75,1005)(31.4,968)(32.8,956)(34.8,968)(36.8,983)(39.8,1005)}
\lp{q10}{(31.4,1005)(32,980)(34,968)(35.5,983)(36.5,1005)}
\lp{tipN}{(32.3,1005)(32.9,986)(34,983)(35,1005)}
\vertgrid
\vertkey
\end{axis}
\begin{axis}[vertover,at={(532.5pt,450.75pt)}]
\vertarrows{\arrB}
\end{axis}

% ---------- panel d
\begin{axis}[vertaxis,at={(532.5pt,87.75pt)}]
\lp{q1}{(22.9,530)(49.2,530)(49.2,1005)(22.9,1005)}
\lp{q2}{(31,530)(31.8,569)(33.8,598)(35.5,617)(39.8,627)(42.8,634)(44.6,636)(46.3,624)(48.1,605)(49.2,578)(49.2,530)}
\lp{r1}{(24.7,605)(25.1,576)(26,565)(27.2,594)(27.7,613)(29.7,636)(31.3,660)(32.8,681)(37.3,681)(40,699)(42.3,712)(44.6,714)(47.3,701)(49.2,699)(49.2,1005)(44.4,1005)(44.6,960)(43.1,936)(34.8,930)(32.8,930)(31,880)(30.1,826)(29.5,786)(26.5,739)(25.5,712)(24.85,644)}
\lp{q2}{(23.2,1005)(23.3,925)(23.7,880)(24.7,831)(26.2,821)(27.7,837)(29.2,880)(30,907)(30.75,930)(30,1005)}
\lp{r2}{(33.4,925)(32.9,842)(33.5,791)(34.8,767)(36.5,748)(38.8,755)(41.8,762)(44.8,772)(47.1,767)(49.2,781)(49.2,996)(45.9,996)(44.85,948)(42.3,928)(41,922)(39.8,928)(37.4,928)(37,888)(35,890)(34,907)}
\lp{r3}{(43.6,847)(45.9,830)(47.6,842)(48.4,907)(48.8,996)(45.9,1005)(45.1,948)(43.7,907)}
\lp{q1}{(29.5,1005)(30,966)(31.8,942)(34.8,936)(37.3,936)(41,936)(43.1,945)(43.9,972)(44.2,1005)}
\lp{q2}{(30,1005)(30.75,960)(32.3,948)(35.3,948)(37.3,948)(41,948)(43.1,954)(44,990)(44.1,1005)}
\lp{q3}{(30.6,1005)(31.1,972)(32.6,957)(34.8,957)(39.8,960)(41.3,963)(43.1,966)(43.6,1005)}
\lp{q4}{(31,1005)(31.5,978)(32.8,966)(34.8,966)(37.3,987)(39.8,990)(41.3,972)(42.6,972)(43.2,1005)}
\lp{q5}{(31.4,1005)(32,984)(33,972)(35,975)(36.8,993)(37.3,1005)}
\lp{q5}{(41.6,1005)(41.8,984)(42.6,984)(43,1005)}
\lp{q6}{(31.8,1005)(32.8,981)(34.5,981)(36,993)(36.5,1005)}
\lp{q7}{(32.4,1005)(33.3,987)(34.8,993)(35.3,1005)}
\vertgrid
\vertkey
\end{axis}
\begin{axis}[vertover,at={(532.5pt,87.75pt)}]
\vertarrows{\arrD}
\end{axis}

% ---------- colour bars
\begin{axis}[cbaxis,at={(51pt,405.75pt)},width=393.75pt,height=20.25pt,xmin=-4.96,xmax=4.96,
 xtick={-4,-2,0,2,4},xticklabels={−4,−2,0,2,4},
 xlabel={DJF 850 hPa Geopotential Difference (m)},
 xlabel style={at={(axis description cs:0.5,-1.67)},anchor=center,font=\fontsize{17}{19}\selectfont}]
\cbarA
\cbtipsA
\end{axis}
\begin{axis}[cbaxis,at={(51pt,42pt)},width=393.75pt,height=20.25pt,xmin=-4.96,xmax=4.96,
 xtick={-4,-2,0,2,4},xticklabels={−4,−2,0,2,4},
 xlabel={JJA 850 hPa Geopotential Difference (m)},
 xlabel style={at={(axis description cs:0.5,-1.6)},anchor=center,font=\fontsize{17}{19}\selectfont}]
\cbarA
\cbtipsA
\end{axis}
\begin{axis}[cbaxis,at={(532.5pt,408.75pt)},width=259.5pt,height=18.75pt,xmin=-.8815,xmax=.8815,
 xtick={-.8,-.4,0,.4,.8},xticklabels={−0.8,−0.4,0.0,0.4,0.8},
 xlabel={Air Temperature Difference (K)},
 xlabel style={at={(axis description cs:0.5,-1.76)},anchor=center,font=\fontsize{16.2}{18}\selectfont}]
\cbarB
\cbtipsB
\end{axis}
\begin{axis}[cbaxis,at={(532.5pt,46.5pt)},width=259.5pt,height=18.75pt,xmin=-.8815,xmax=.8815,
 xtick={-.8,-.4,0,.4,.8},xticklabels={−0.8,−0.4,0.0,0.4,0.8},
 xlabel={Air Temperature Difference (K)},
 xlabel style={at={(axis description cs:0.5,-1.76)},anchor=center,font=\fontsize{16.2}{18}\selectfont}]
\cbarB
\cbtipsB
\end{axis}

% ---------- panel letters
\node[font=\lettfont\bfseries\fontsize{21}{23}\selectfont] at (14.5pt,718.5pt) {a};
\node[font=\lettfont\bfseries\fontsize{21}{23}\selectfont] at (487.5pt,718.5pt) {b};
\node[font=\lettfont\bfseries\fontsize{21}{23}\selectfont] at (14.5pt,354pt) {c};
\node[font=\lettfont\bfseries\fontsize{21}{23}\selectfont] at (487.5pt,354pt) {d};
\end{tikzpicture}
\end{document}
